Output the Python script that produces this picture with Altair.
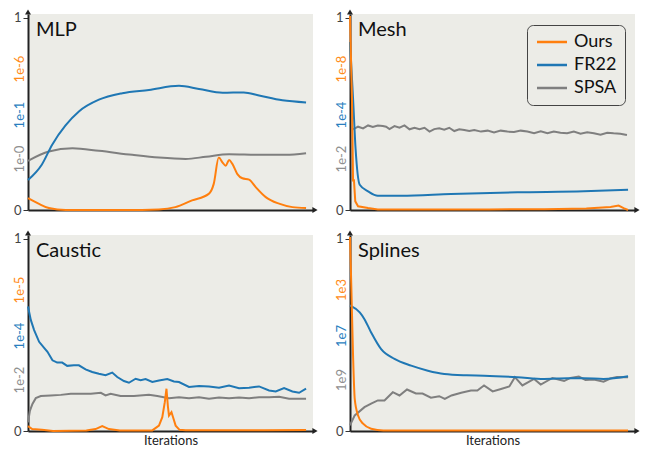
import altair as alt
import pandas as pd

SERIES = ["Ours", "FR22", "SPSA"]
COLORS = ["#ff7f0e", "#1f77b4", "#7f7f7f"]
LABEL_COLORS = ["#ff8c1a", "#2a7fbf", "#8f8f8f"]
BG = "#ecece7"
FONT = "Lato"
INK = "#222222"

# ---------------- data (normalised iteration, normalised value) ----------------
# MLP
mlp_ours_x = [0, 0.038, 0.075, 0.135, 0.25, 0.35, 0.471, 0.53, 0.59, 0.65, 0.668, 0.686, 0.70, 0.711,
              0.723, 0.735, 0.753, 0.771, 0.795, 0.819, 0.855, 0.903, 0.951, 1.0]
mlp_ours_y = [0.062, 0.033, 0.01, 0.0, 0.0, 0.0, 0.003, 0.015, 0.05, 0.084, 0.136, 0.273, 0.247, 0.23,
              0.26, 0.24, 0.187, 0.165, 0.158, 0.119, 0.067, 0.033, 0.015, 0.01]
mlp_fr22_x = [0, 0.05, 0.087, 0.135, 0.184, 0.255, 0.339, 0.435, 0.543, 0.615, 0.70, 0.776, 0.831, 0.915, 1.0]
mlp_fr22_y = [0.156, 0.237, 0.34, 0.44, 0.514, 0.574, 0.608, 0.625, 0.646, 0.63, 0.61, 0.612, 0.596, 0.571, 0.56]
mlp_spsa_x = [0, 0.075, 0.16, 0.255, 0.375, 0.471, 0.567, 0.64, 0.723, 0.831, 0.927, 1.0]
mlp_spsa_y = [0.256, 0.304, 0.321, 0.308, 0.287, 0.273, 0.266, 0.277, 0.29, 0.287, 0.287, 0.295]

# Mesh
mesh_ours_x = [0, 0.007, 0.011, 0.014, 0.019, 0.029, 0.065, 0.1, 0.3, 0.5, 0.7, 0.85, 0.937, 0.966, 0.984, 1.0]
mesh_ours_y = [1.01, 0.58, 0.149, 0.16, 0.045, 0.019, 0.01, 0.003, 0.003, 0.003, 0.004, 0.008, 0.016, 0.023, 0.01, 0.0]
mesh_fr22_x = [0, 0.011, 0.02, 0.035, 0.065, 0.1, 0.184, 0.363, 0.602, 0.841, 1.0]
mesh_fr22_y = [0.874, 0.58, 0.32, 0.131, 0.097, 0.074, 0.074, 0.083, 0.092, 0.097, 0.105]
mesh_spsa_x = [0.011, 0.029, 0.047, 0.065, 0.082, 0.100, 0.118, 0.130, 0.142, 0.160, 0.178, 0.196, 0.214,
               0.232, 0.250, 0.268, 0.286, 0.303, 0.321, 0.339, 0.357, 0.375, 0.393, 0.411, 0.429, 0.447,
               0.471, 0.495, 0.518, 0.542, 0.566, 0.590, 0.614, 0.638, 0.662, 0.686, 0.710, 0.733, 0.757,
               0.781, 0.805, 0.829, 0.853, 0.877, 0.901, 0.925, 0.948, 0.972, 0.996]
mesh_spsa_y = [0.420, 0.4335, 0.425, 0.440, 0.432, 0.440, 0.437, 0.4335, 0.421, 0.437, 0.428, 0.440, 0.420,
               0.428, 0.420, 0.428, 0.408, 0.421, 0.425, 0.418, 0.428, 0.411, 0.420, 0.416, 0.411, 0.416,
               0.408, 0.413, 0.404, 0.413, 0.408, 0.406, 0.413, 0.408, 0.399, 0.409, 0.399, 0.408, 0.402,
               0.399, 0.408, 0.397, 0.404, 0.399, 0.392, 0.402, 0.399, 0.397, 0.390]

# Caustic
caustic_ours_x = [0, 0.015, 0.05, 0.09, 0.21, 0.243, 0.267, 0.291, 0.33, 0.447, 0.471, 0.483, 0.492, 0.498,
                  0.503, 0.507, 0.516, 0.522, 0.531, 0.545, 0.567, 0.7, 0.85, 1.0]
caustic_ours_y = [0.025, 0.01, 0.006, 0.0, 0.003, 0.01, 0.025, 0.01, 0.003, 0.003, 0.028, 0.072, 0.15, 0.22,
                  0.13, 0.08, 0.098, 0.07, 0.028, 0.006, 0.004, 0.004, 0.004, 0.005]
caustic_fr22_x = [0, 0.01, 0.022, 0.04, 0.058, 0.07, 0.088, 0.105, 0.123, 0.141, 0.165, 0.183, 0.207, 0.231,
                  0.255, 0.279, 0.303, 0.321, 0.345, 0.363, 0.387, 0.405, 0.423, 0.447, 0.471, 0.501, 0.525,
                  0.543, 0.579, 0.615, 0.651, 0.687, 0.723, 0.759, 0.795, 0.831, 0.867, 0.891, 0.921, 0.951,
                  0.975, 1.0]
caustic_fr22_y = [0.648, 0.578, 0.525, 0.464, 0.433, 0.412, 0.368, 0.356, 0.356, 0.339, 0.342, 0.342, 0.321,
                  0.307, 0.298, 0.29, 0.304, 0.281, 0.26, 0.251, 0.272, 0.264, 0.27, 0.255, 0.263, 0.27, 0.258,
                  0.255, 0.229, 0.234, 0.232, 0.225, 0.237, 0.223, 0.225, 0.232, 0.211, 0.206, 0.223, 0.206,
                  0.199, 0.22]
caustic_spsa_x = [0, 0.007, 0.016, 0.028, 0.046, 0.082, 0.118, 0.154, 0.19, 0.226, 0.262, 0.279, 0.297, 0.333,
                  0.381, 0.435, 0.465, 0.507, 0.543, 0.579, 0.615, 0.651, 0.687, 0.723, 0.759, 0.795, 0.831,
                  0.867, 0.903, 0.939, 0.975, 1.0]
caustic_spsa_y = [0.045, 0.106, 0.141, 0.171, 0.182, 0.185, 0.188, 0.194, 0.194, 0.194, 0.199, 0.185, 0.194,
                  0.182, 0.182, 0.188, 0.182, 0.171, 0.176, 0.171, 0.176, 0.168, 0.174, 0.171, 0.174, 0.171,
                  0.176, 0.176, 0.178, 0.168, 0.168, 0.168]

# Splines
splines_ours_x = [0, 0.005, 0.011, 0.017, 0.029, 0.047, 0.076, 0.12, 0.3, 0.6, 1.0]
splines_ours_y = [1.01, 0.737, 0.392, 0.167, 0.081, 0.038, 0.012, 0.003, 0.003, 0.003, 0.003]
splines_fr22_x = [0, 0.035, 0.052, 0.076, 0.112, 0.16, 0.22, 0.28, 0.339, 0.42, 0.482, 0.602, 0.698, 0.781,
                  0.841, 0.912, 1.0]
splines_fr22_y = [0.654, 0.617, 0.582, 0.513, 0.426, 0.375, 0.34, 0.314, 0.297, 0.29, 0.288, 0.28, 0.271,
                  0.275, 0.275, 0.271, 0.285]
splines_spsa_x = [0, 0.017, 0.052, 0.076, 0.1, 0.124, 0.154, 0.178, 0.205, 0.237, 0.261, 0.291, 0.321, 0.341,
                  0.365, 0.4, 0.435, 0.458, 0.482, 0.513, 0.543, 0.573, 0.593, 0.62, 0.662, 0.686, 0.728, 0.77,
                  0.793, 0.823, 0.847, 0.877, 0.912, 0.936, 0.96, 1.0]
splines_spsa_y = [0.03, 0.081, 0.124, 0.143, 0.159, 0.159, 0.202, 0.185, 0.216, 0.195, 0.195, 0.173, 0.181,
                  0.167, 0.185, 0.199, 0.211, 0.211, 0.237, 0.206, 0.219, 0.232, 0.28, 0.237, 0.271, 0.242,
                  0.276, 0.26, 0.276, 0.283, 0.266, 0.268, 0.257, 0.273, 0.281, 0.28]

# per-panel scale annotations (orange, blue, gray)
mlp_scales = ["1e-6", "1e-1", "1e-0"]
mesh_scales = ["1e-8", "1e-4", "1e-2"]
caustic_scales = ["1e-5", "1e-4", "1e-2"]
splines_scales = ["1e3", "1e7", "1e9"]

W, H = 285, 196
XDOM = [0, 1.025]
YDOM = [0, 1.02]
SCALE_LABEL_Y = [55, 101, 145]

ONE = pd.DataFrame({"k": [0]})


def panel(name, data, scales, interp, legend, bottom):
    frames = []
    for s in SERIES:
        xs, ys = data[s]
        frames.append(pd.DataFrame({"series": s, "iter": xs, "value": ys}))
    df = pd.concat(frames, ignore_index=True)

    x = alt.X(
        "iter:Q",
        scale=alt.Scale(domain=XDOM, nice=False, zero=False),
        axis=alt.Axis(values=[], labels=False, ticks=False, grid=False, domainColor=INK,
                      domainWidth=2, titleFont=FONT, titleFontSize=13, titleFontWeight="normal",
                      titleColor=INK, titlePadding=3),
        title="Iterations" if bottom else None,
    )
    y = alt.Y(
        "value:Q",
        scale=alt.Scale(domain=YDOM, nice=False),
        axis=alt.Axis(values=[0, 1], format="d", grid=False, tickSize=5, tickColor="#333",
                      domainColor=INK, domainWidth=2, labelFont=FONT, labelFontSize=13,
                      labelColor="#444", labelPadding=2),
        title=None,
    )
    color = alt.Color("series:N", scale=alt.Scale(domain=SERIES, range=COLORS), legend=legend)

    layers = []
    for s in ["SPSA", "FR22", "Ours"]:
        layers.append(
            alt.Chart(df)
            .transform_filter(alt.datum.series == s)
            .mark_line(strokeWidth=2, interpolate=interp.get(s, "linear"))
            .encode(x=x, y=y, color=color)
        )

    for lab, col, yp in zip(scales, LABEL_COLORS, SCALE_LABEL_Y):
        layers.append(
            alt.Chart(pd.DataFrame({"t": [lab]}))
            .mark_text(angle=270, font=FONT, fontSize=13, color=col, align="center", baseline="middle")
            .encode(x=alt.value(-8), y=alt.value(yp), text="t:N")
        )

    layers.append(
        alt.Chart(pd.DataFrame({"t": [name]}))
        .mark_text(align="left", baseline="alphabetic", font=FONT, fontSize=20, color="#111")
        .encode(x=alt.value(8), y=alt.value(22), text="t:N")
    )
    layers.append(
        alt.Chart(ONE).mark_point(shape="triangle-up", filled=True, size=36, color=INK, opacity=1)
        .encode(x=alt.value(0), y=alt.value(-2))
    )
    layers.append(
        alt.Chart(ONE).mark_point(shape="triangle-right", filled=True, size=36, color=INK, opacity=1)
        .encode(x=alt.value(W + 2), y=alt.value(H))
    )
    return alt.layer(*layers).properties(width=W, height=H)


legend = alt.Legend(
    orient="none", legendX=177, legendY=11, title=None,
    symbolType="M-2,0H2", symbolSize=225, symbolStrokeWidth=2.5, symbolOffset=8,
    labelOffset=13, labelAlign="left", labelFont=FONT, labelFontSize=18, labelColor="#111",
    padding=8, rowPadding=5, strokeColor="#444", fillColor=BG, cornerRadius=6,
)

p_mlp = panel("MLP",
              {"Ours": (mlp_ours_x, mlp_ours_y), "FR22": (mlp_fr22_x, mlp_fr22_y),
               "SPSA": (mlp_spsa_x, mlp_spsa_y)},
              mlp_scales, {"Ours": "monotone", "FR22": "monotone", "SPSA": "monotone"}, None, False)
p_mesh = panel("Mesh",
               {"Ours": (mesh_ours_x, mesh_ours_y), "FR22": (mesh_fr22_x, mesh_fr22_y),
                "SPSA": (mesh_spsa_x, mesh_spsa_y)},
               mesh_scales, {"FR22": "monotone"}, legend, False)
p_caustic = panel("Caustic",
                  {"Ours": (caustic_ours_x, caustic_ours_y), "FR22": (caustic_fr22_x, caustic_fr22_y),
                   "SPSA": (caustic_spsa_x, caustic_spsa_y)},
                  caustic_scales, {}, None, True)
p_splines = panel("Splines",
                  {"Ours": (splines_ours_x, splines_ours_y), "FR22": (splines_fr22_x, splines_fr22_y),
                   "SPSA": (splines_spsa_x, splines_spsa_y)},
                  splines_scales, {"Ours": "monotone", "FR22": "monotone"}, None, True)

chart = (
    alt.concat(p_mlp, p_mesh, p_caustic, p_splines, columns=2,
               spacing={"row": 25, "column": 37}, bounds="flush")
    .resolve_scale(color="independent")
    .resolve_legend(color="independent")
    .properties(padding={"left": 13, "top": 9, "right": 2, "bottom": 1}, background="white")
    .configure_view(fill=BG, stroke=None)
)

chart.save("out.html", embed_options={"renderer": "svg", "actions": False})
